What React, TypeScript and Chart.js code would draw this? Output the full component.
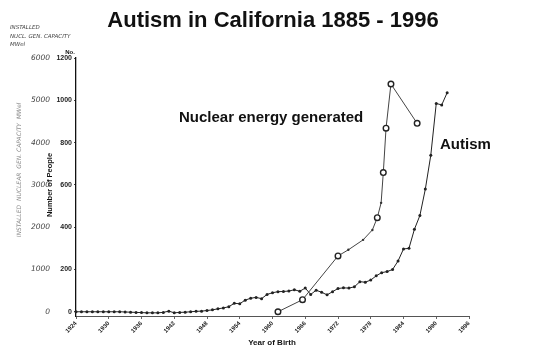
import React, { useEffect, useRef } from "react";
import { Chart, registerables } from "chart.js";

Chart.register(...registerables);

const xTickLabels = [1924, 1930, 1936, 1942, 1948, 1954, 1960, 1966, 1972, 1978, 1984, 1990, 1996];
const yTickValues = [0, 200, 400, 600, 800, 1000, 1200];
const handScaleLabels = ["0", "1000", "2000", "3000", "4000", "5000", "6000"];

const autismYears = [
  1924, 1925, 1926, 1927, 1928, 1929, 1930, 1931, 1932, 1933, 1934, 1935, 1936, 1937, 1938, 1939,
  1940, 1941, 1942, 1943, 1944, 1945, 1946, 1947, 1948, 1949, 1950, 1951, 1952, 1953, 1954, 1955,
  1956, 1957, 1958, 1959, 1960, 1961, 1962, 1963, 1964, 1965, 1966, 1967, 1968, 1969, 1970, 1971,
  1972, 1973, 1974, 1975, 1976, 1977, 1978, 1979, 1980, 1981, 1982, 1983, 1984, 1985, 1986, 1987,
  1988, 1989, 1990, 1991, 1992,
];
const autismValues = [
  0, 0, 0, 0, 0, 0, 0, 0, 0, -1, -2, -3, -4, -5, -5, -5,
  -3, 3, -5, -3, -2, 0, 2, 3, 6, 9, 14, 18, 24, 40, 38, 55,
  64, 68, 62, 82, 90, 95, 96, 98, 104, 97, 112, 82, 102, 92, 80, 95,
  110, 113, 112, 118, 142, 140, 150, 170, 185, 190, 200, 240, 297, 300, 390, 455,
  580, 740, 985, 978, 1036,
];

const nuclearYears = [1961, 1965.5, 1972, 1973.9, 1976.6, 1978.3, 1979.2, 1979.9, 1980.3, 1980.8, 1981.7, 1986.5];
const nuclearValues = [0, 57, 264, 293, 340, 387, 445, 515, 658, 868, 1077, 891];
const nuclearMarked = [true, true, true, false, false, false, true, false, true, true, true, true];

const titleText = "Autism in California 1885 - 1996";
const nuclearLabel = "Nuclear energy generated";
const autismLabel = "Autism";
const xTitle = "Year of Birth";
const yTitle = "Number of People";
const handHeader = ["INSTALLED", "NUCL. GEN. CAPACITY", "MWel"];
const handVertical = "INSTALLED  NUCLEAR  GEN. CAPACITY  MWel";
const yUnit = "No.";

const SANS = '"Liberation Sans", Arial, Helvetica, sans-serif';
const HAND = '"DejaVu Sans", sans-serif';

const textPlugin = {
  id: "textPlugin",
  afterDraw(chart: any) {
    const ctx = chart.ctx as CanvasRenderingContext2D;
    const yScale = chart.scales.y;
    ctx.save();
    ctx.fillStyle = "#111";
    ctx.textBaseline = "middle";

    ctx.font = `bold 22px ${SANS}`;
    ctx.textAlign = "center";
    ctx.fillText(titleText, 273, 21);

    ctx.font = `bold 15px ${SANS}`;
    ctx.textAlign = "left";
    ctx.fillText(nuclearLabel, 179, 118);
    ctx.font = `bold 15px ${SANS}`;
    ctx.fillText(autismLabel, 440, 145);

    ctx.font = `bold 8px ${SANS}`;
    ctx.textAlign = "center";
    ctx.fillText(xTitle, 272, 343);

    ctx.save();
    ctx.translate(50, 185);
    ctx.rotate(-Math.PI / 2);
    ctx.font = `bold 7.5px ${SANS}`;
    ctx.fillText(yTitle, 0, 0);
    ctx.restore();

    ctx.font = `bold 6px ${SANS}`;
    ctx.fillText(yUnit, 70, 52);

    // handwritten scale
    ctx.fillStyle = "#444";
    ctx.font = `italic 7.5px ${HAND}`;
    ctx.textAlign = "right";
    yTickValues.forEach((v, i) => {
      ctx.fillText(handScaleLabels[i], 50, yScale.getPixelForValue(v));
    });
    ctx.textAlign = "left";
    ctx.font = `italic 5.5px ${HAND}`;
    handHeader.forEach((t, i) => ctx.fillText(t, 10, 28 + i * 8.5));

    ctx.save();
    ctx.fillStyle = "#888";
    ctx.translate(19, 170);
    ctx.rotate(-Math.PI / 2);
    ctx.textAlign = "center";
    ctx.font = `italic 6px ${HAND}`;
    ctx.fillText(handVertical, 0, 0);
    ctx.restore();

    ctx.restore();
  },
};

export default function App() {
  const ref = useRef<HTMLCanvasElement | null>(null);

  useEffect(() => {
    if (!ref.current) return;
    const chart = new Chart(ref.current, {
      type: "line",
      data: {
        datasets: [
          {
            label: "Nuclear",
            data: nuclearYears.map((x, i) => ({ x, y: nuclearValues[i] })),
            borderColor: "#444",
            borderWidth: 1,
            pointRadius: nuclearMarked.map((m) => (m ? 2.8 : 1.2)),
            pointBackgroundColor: nuclearMarked.map((m) => (m ? "#fff" : "#333")),
            pointBorderColor: "#222",
            pointBorderWidth: nuclearMarked.map((m) => (m ? 1.4 : 0)),
            tension: 0,
            clip: false,
          } as any,
          {
            label: "Autism",
            data: autismYears.map((x, i) => ({ x, y: autismValues[i] })),
            borderColor: "#222",
            borderWidth: 1,
            pointRadius: 1.5,
            pointBackgroundColor: "#222",
            pointBorderWidth: 0,
            tension: 0,
            clip: false,
          } as any,
        ],
      },
      options: {
        responsive: false,
        animation: false,
        devicePixelRatio: 1,
        layout: { padding: { left: 0, top: 58, right: 77, bottom: 0 } },
        plugins: { legend: { display: false }, tooltip: { enabled: false } },
        scales: {
          x: {
            type: "linear",
            min: xTickLabels[0],
            max: xTickLabels[xTickLabels.length - 1],
            afterBuildTicks: (s: any) => {
              s.ticks = xTickLabels.map((v) => ({ value: v }));
            },
            afterFit: (s: any) => {
              s.height = 45;
            },
            ticks: {
              autoSkip: false,
              maxRotation: 45,
              minRotation: 45,
              font: { family: SANS, size: 6, weight: "bold" },
              color: "#222",
              padding: 1,
              callback: (v: any) => String(v),
            },
            grid: { drawOnChartArea: false, drawTicks: true, tickLength: 3, color: "#666" },
            border: { display: true, color: "#555", width: 1, dash: [4, 1] },
          },
          y: {
            type: "linear",
            min: -20,
            max: 1200,
            afterBuildTicks: (s: any) => {
              s.ticks = yTickValues.map((v) => ({ value: v }));
            },
            afterFit: (s: any) => {
              s.width = 76;
            },
            ticks: {
              font: { family: SANS, size: 7, weight: "bold" },
              color: "#222",
              padding: 2,
              callback: (v: any) => String(v),
            },
            grid: { drawOnChartArea: false, drawTicks: true, tickLength: 2, color: "#444" },
            border: { display: true, color: "#111", width: 1.3 },
          },
        },
      },
      plugins: [textPlugin],
    });
    return () => chart.destroy();
  }, []);

  return (
    <div style={{ position: "fixed", left: 0, top: 0, width: 546, height: 361, background: "#fff" }}>
      <canvas ref={ref} width={546} height={361} style={{ display: "block" }} />
    </div>
  );
}
